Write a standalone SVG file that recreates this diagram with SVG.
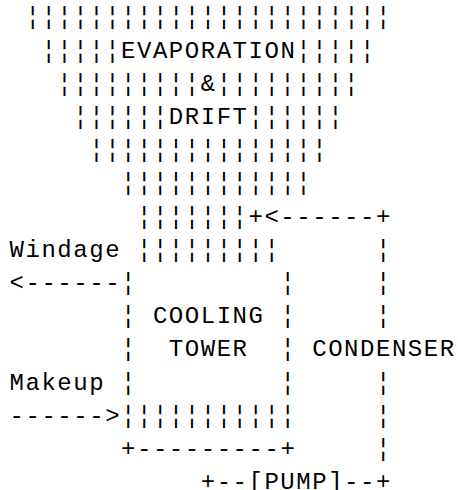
<svg xmlns="http://www.w3.org/2000/svg" width="458" height="490" viewBox="0 0 458 490">
<style>
text{font-family:"Liberation Mono","DejaVu Sans Mono",monospace;font-size:24px;letter-spacing:1.53px;fill:#000;white-space:pre}
</style>
<rect width="458" height="490" fill="#fff"/>
<g id="plume">
<text x="25.49" y="24.3">¦¦¦¦¦¦¦¦¦¦¦¦¦¦¦¦¦¦¦¦¦¦¦</text>
<text x="41.42" y="57.5">¦¦¦¦¦</text>
<text x="121.07" y="57.5">EVAPORATION</text>
<text x="296.3" y="57.5">¦¦¦¦¦</text>
<text x="57.35" y="90.7">¦¦¦¦¦¦¦¦¦</text>
<text x="200.72" y="90.7">&amp;</text>
<text x="216.65" y="90.7">¦¦¦¦¦¦¦¦¦</text>
<text x="73.28" y="123.9">¦¦¦¦¦¦</text>
<text x="168.86" y="123.9">DRIFT</text>
<text x="248.51" y="123.9">¦¦¦¦¦¦</text>
<text x="89.21" y="157.1">¦¦¦¦¦¦¦¦¦¦¦¦¦¦¦</text>
<text x="121.07" y="190.3">¦¦¦¦¦¦¦¦¦¦¦¦</text>
<text x="137" y="223.5">¦¦¦¦¦¦¦</text>
<text x="137" y="256.7">¦¦¦¦¦¦¦¦¦</text>
</g>
<g id="tower">
<text x="121.07" y="289.9" xml:space="preserve">¦         ¦</text>
<text x="121.07" y="323.1" xml:space="preserve">¦ COOLING ¦</text>
<text x="121.07" y="356.3" xml:space="preserve">¦  TOWER  ¦</text>
<text x="121.07" y="389.5" xml:space="preserve">¦         ¦</text>
<text x="121.07" y="422.7">¦¦¦¦¦¦¦¦¦¦¦</text>
<text x="121.07" y="455.9">+---------+</text>
</g>
<g id="windage">
<text x="9.56" y="256.7">Windage</text>
</g>
<g id="makeup">
<text x="9.56" y="389.5">Makeup</text>
</g>
<g id="condenser">
<text x="312.23" y="356.3">CONDENSER</text>
</g>
<g id="pump">
<text x="248.51" y="488.5">[PUMP]</text>
</g>
<g id="connectors">
<text x="248.51" y="223.5">+&lt;------+</text>
<text x="375.95" y="256.7">¦</text>
<text x="375.95" y="289.9">¦</text>
<text x="375.95" y="323.1">¦</text>
<text x="375.95" y="389.5">¦</text>
<text x="375.95" y="422.7">¦</text>
<text x="375.95" y="455.9">¦</text>
<text x="200.72" y="488.5">+--</text>
<text x="344.09" y="488.5">--+</text>
<text x="9.56" y="289.9">&lt;------</text>
<text x="9.56" y="422.7">------&gt;</text>
</g>
</svg>
